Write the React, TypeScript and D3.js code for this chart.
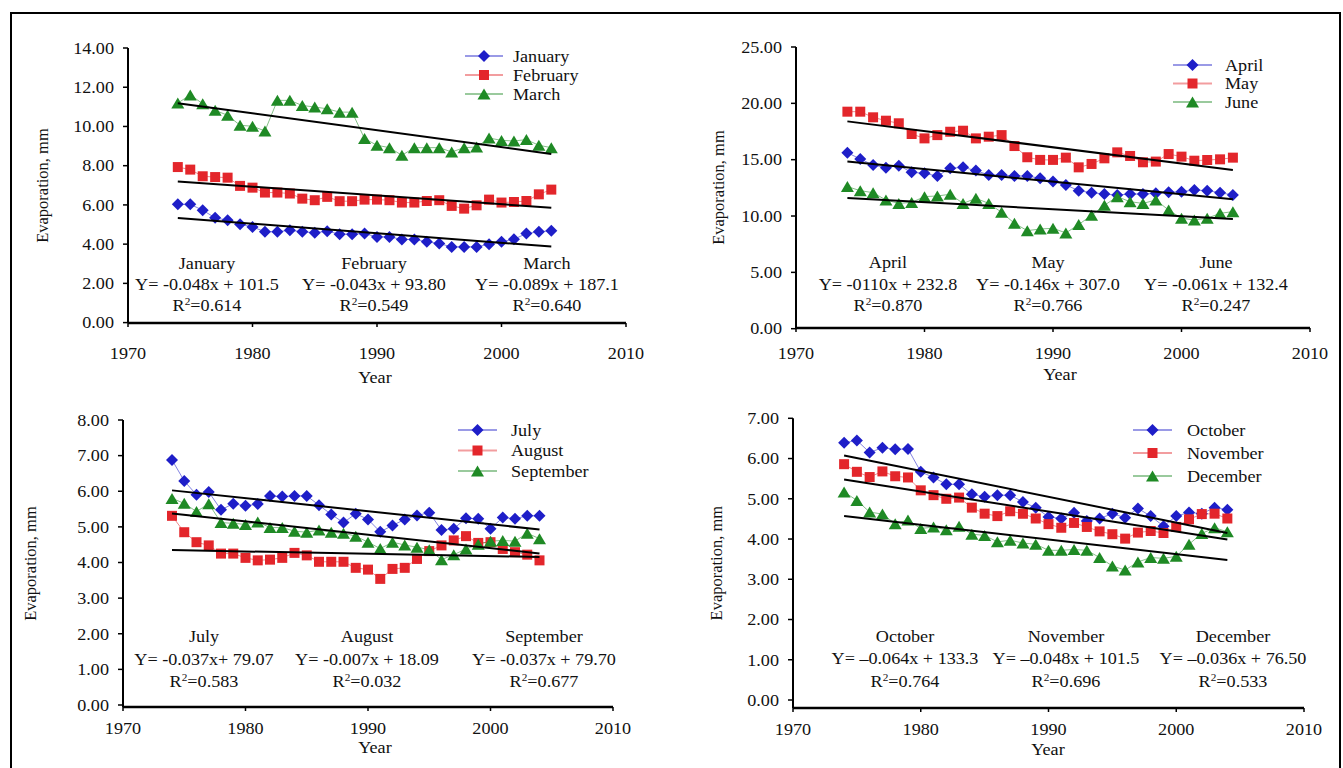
import React from "react";
import * as d3 from "d3";

const years = [1974, 1975, 1976, 1977, 1978, 1979, 1980, 1981, 1982, 1983, 1984, 1985, 1986, 1987, 1988, 1989, 1990, 1991, 1992, 1993, 1994, 1995, 1996, 1997, 1998, 1999, 2000, 2001, 2002, 2003, 2004];
const xTicks = [1970, 1980, 1990, 2000, 2010];

const january = [6.03, 6.03, 5.73, 5.34, 5.22, 5.01, 4.88, 4.63, 4.63, 4.71, 4.63, 4.58, 4.66, 4.51, 4.51, 4.54, 4.37, 4.37, 4.24, 4.24, 4.12, 4.03, 3.86, 3.86, 3.86, 4.0, 4.12, 4.25, 4.54, 4.63, 4.68];
const february = [7.93, 7.8, 7.46, 7.42, 7.39, 6.97, 6.88, 6.63, 6.63, 6.58, 6.32, 6.24, 6.41, 6.19, 6.19, 6.27, 6.27, 6.24, 6.12, 6.12, 6.2, 6.24, 5.95, 5.81, 5.98, 6.27, 6.12, 6.15, 6.2, 6.54, 6.78];
const march = [11.19, 11.61, 11.16, 10.82, 10.57, 10.06, 10.01, 9.77, 11.33, 11.33, 11.07, 10.99, 10.9, 10.73, 10.73, 9.38, 9.04, 8.92, 8.53, 8.92, 8.92, 8.92, 8.7, 8.92, 8.95, 9.41, 9.29, 9.26, 9.33, 9.04, 8.92];
const april = [15.62, 15.06, 14.53, 14.29, 14.47, 13.88, 13.79, 13.55, 14.23, 14.32, 14.03, 13.64, 13.64, 13.55, 13.55, 13.35, 13.06, 12.76, 12.25, 12.07, 11.95, 11.86, 11.95, 11.95, 12.01, 12.1, 12.16, 12.31, 12.25, 12.07, 11.86];
const may = [19.26, 19.26, 18.76, 18.46, 18.23, 17.28, 16.89, 17.18, 17.48, 17.57, 16.89, 17.04, 17.18, 16.21, 15.21, 14.98, 14.98, 15.18, 14.32, 14.62, 15.12, 15.65, 15.33, 14.77, 14.83, 15.5, 15.27, 14.91, 14.97, 15.03, 15.18];
const june = [12.61, 12.25, 12.07, 11.42, 11.12, 11.21, 11.72, 11.78, 11.93, 11.12, 11.57, 11.12, 10.33, 9.35, 8.7, 8.85, 8.91, 8.5, 9.24, 10.07, 10.95, 11.72, 11.27, 11.12, 11.42, 10.53, 9.8, 9.65, 9.8, 10.24, 10.39];
const july = [6.88, 6.29, 5.9, 5.98, 5.48, 5.65, 5.59, 5.64, 5.87, 5.85, 5.87, 5.87, 5.61, 5.35, 5.12, 5.37, 5.21, 4.86, 5.04, 5.21, 5.32, 5.4, 4.91, 4.95, 5.24, 5.23, 4.95, 5.26, 5.23, 5.31, 5.31];
const august = [5.31, 4.85, 4.57, 4.48, 4.25, 4.25, 4.13, 4.06, 4.08, 4.13, 4.27, 4.2, 4.02, 4.02, 4.02, 3.85, 3.8, 3.54, 3.82, 3.85, 4.1, 4.32, 4.48, 4.62, 4.74, 4.55, 4.57, 4.38, 4.29, 4.22, 4.06];
const september = [5.8, 5.66, 5.43, 5.65, 5.12, 5.1, 5.07, 5.14, 4.98, 4.98, 4.88, 4.85, 4.91, 4.85, 4.82, 4.74, 4.57, 4.39, 4.57, 4.49, 4.43, 4.36, 4.08, 4.22, 4.38, 4.51, 4.6, 4.62, 4.6, 4.82, 4.67];
const october = [6.39, 6.45, 6.15, 6.27, 6.23, 6.24, 5.67, 5.53, 5.36, 5.36, 5.11, 5.05, 5.09, 5.09, 4.92, 4.78, 4.55, 4.51, 4.65, 4.45, 4.51, 4.63, 4.53, 4.76, 4.57, 4.32, 4.57, 4.66, 4.63, 4.78, 4.73];
const november = [5.86, 5.67, 5.54, 5.68, 5.56, 5.53, 5.21, 5.09, 5.0, 5.03, 4.78, 4.63, 4.57, 4.69, 4.63, 4.51, 4.37, 4.28, 4.4, 4.3, 4.19, 4.12, 4.01, 4.16, 4.2, 4.15, 4.3, 4.49, 4.62, 4.63, 4.51];
const december = [5.17, 4.96, 4.67, 4.62, 4.38, 4.47, 4.26, 4.3, 4.23, 4.32, 4.12, 4.09, 3.93, 3.97, 3.9, 3.87, 3.72, 3.72, 3.74, 3.72, 3.54, 3.33, 3.23, 3.43, 3.54, 3.52, 3.57, 3.87, 4.14, 4.28, 4.18];

const equationsQ1 = ["Y= -0.048x + 101.5", "Y= -0.043x + 93.80", "Y= -0.089x + 187.1"];
const r2Q1 = ["0.614", "0.549", "0.640"];
const equationsQ2 = ["Y= -0110x + 232.8", "Y= -0.146x + 307.0", "Y= -0.061x + 132.4"];
const r2Q2 = ["0.870", "0.766", "0.247"];
const equationsQ3 = ["Y= -0.037x+ 79.07", "Y= -0.007x + 18.09", "Y= -0.037x + 79.70"];
const r2Q3 = ["0.583", "0.032", "0.677"];
const equationsQ4 = ["Y= \u20130.064x + 133.3", "Y= \u20130.048x + 101.5", "Y= \u20130.036x + 76.50"];
const r2Q4 = ["0.764", "0.696", "0.533"];

const BLUE = "#1e1ec8";
const RED = "#e3262b";
const GREEN = "#1f8a25";
const FONT = "'Liberation Serif', 'Times New Roman', serif";
const FS = 16.5;
const SX = 1.1;

type Marker = "diamond" | "square" | "triangle";
type Series = { name: string; values: number[]; color: string; marker: Marker };

type PanelCfg = {
  series: Series[];
  equations: string[];
  r2: string[];
  xRange: [number, number];
  yRange: [number, number];
  yMax: number;
  yStep: number;
  axisY: number;
  xLabelY: number;
  yearX: number;
  yearY: number;
  yTitleX: number;
  legend: { x1: number; x2: number; tx: number; y0: number; dy: number };
  notesX: number[];
  notesY: number[];
};

function markerPath(m: Marker, cx: number, cy: number, s = 1): string {
  if (m === "diamond") {
    const r = 6 * s;
    return `M${cx},${cy - r}L${cx + r},${cy}L${cx},${cy + r}L${cx - r},${cy}Z`;
  }
  if (m === "square") {
    const r = 5 * s;
    return `M${cx - r},${cy - r}h${2 * r}v${2 * r}h${-2 * r}Z`;
  }
  const w = 6.5 * s;
  const h = 5.5 * s;
  return `M${cx},${cy - h}L${cx + w},${cy + h}L${cx - w},${cy + h}Z`;
}

function fit(xs: number[], ys: number[]): [number, number] {
  const mx = d3.mean(xs) as number;
  const my = d3.mean(ys) as number;
  let sxy = 0;
  let sxx = 0;
  xs.forEach((xv, i) => {
    sxy += (xv - mx) * (ys[i] - my);
    sxx += (xv - mx) * (xv - mx);
  });
  const b = sxy / sxx;
  return [b, my - b * mx];
}

function HText({ x, y, anchor = "middle", children, size = FS }: { x: number; y: number; anchor?: string; children: React.ReactNode; size?: number }) {
  return (
    <text
      transform={`translate(${x},${y}) scale(${SX},1)`}
      textAnchor={anchor}
      dy="0.35em"
      fontFamily={FONT}
      fontSize={size}
      fill="#111"
    >
      {children}
    </text>
  );
}

function Panel({ cfg }: { cfg: PanelCfg }) {
  const x = d3.scaleLinear().domain([1970, 2010]).range(cfg.xRange);
  const y = d3.scaleLinear().domain([0, cfg.yMax]).range(cfg.yRange);
  const yTicks = d3.range(0, cfg.yMax + 0.001, cfg.yStep);
  const fmt = d3.format(".2f");
  const line = d3
    .line<number>()
    .x((_, i) => x(years[i]))
    .y((v) => y(v));
  const x0 = cfg.xRange[0];
  const x1 = cfg.xRange[1];
  const yTop = y(cfg.yMax);
  const first = years[0];
  const last = years[years.length - 1];

  return (
    <g>
      {/* series lines */}
      {cfg.series.map((s) => (
        <path key={s.name + "l"} d={line(s.values) || ""} fill="none" stroke={s.color} strokeOpacity={0.55} strokeWidth={1} />
      ))}
      {/* markers */}
      {cfg.series.map((s) => (
        <g key={s.name + "m"} fill={s.color}>
          {s.values.map((v, i) => (
            <path key={i} d={markerPath(s.marker, x(years[i]), y(v))} />
          ))}
        </g>
      ))}
      {/* trend lines */}
      {cfg.series.map((s) => {
        const [b, a] = fit(years, s.values);
        return (
          <line
            key={s.name + "t"}
            x1={x(first)}
            y1={y(a + b * first)}
            x2={x(last)}
            y2={y(a + b * last)}
            stroke="#000"
            strokeWidth={2}
          />
        );
      })}
      {/* y axis */}
      <line x1={x0} y1={yTop} x2={x0} y2={cfg.axisY} stroke="#000" strokeWidth={2} />
      {yTicks.map((t) => (
        <g key={"yt" + t}>
          <line x1={x0 - 5} y1={y(t)} x2={x0} y2={y(t)} stroke="#000" strokeWidth={1.5} />
          <HText x={x0 - 14} y={y(t)} anchor="end">
            {fmt(t)}
          </HText>
        </g>
      ))}
      {/* x axis */}
      <line x1={x0} y1={cfg.axisY} x2={x1} y2={cfg.axisY} stroke="#000" strokeWidth={2.5} />
      {xTicks.map((t) => (
        <g key={"xt" + t}>
          <line x1={x(t)} y1={cfg.axisY} x2={x(t)} y2={cfg.axisY + 4} stroke="#000" strokeWidth={1.5} />
          <HText x={x(t)} y={cfg.xLabelY}>
            {t}
          </HText>
        </g>
      ))}
      <HText x={cfg.yearX} y={cfg.yearY}>
        Year
      </HText>
      <text
        transform={`translate(${cfg.yTitleX},${(yTop + cfg.axisY) / 2}) rotate(-90)`}
        textAnchor="middle"
        dy="0.35em"
        fontFamily={FONT}
        fontSize={FS}
        fill="#111"
      >
        Evaporation, mm
      </text>
      {/* legend */}
      {cfg.series.map((s, i) => {
        const ly = cfg.legend.y0 + i * cfg.legend.dy;
        const mx = (cfg.legend.x1 + cfg.legend.x2) / 2;
        return (
          <g key={s.name + "lg"}>
            <line x1={cfg.legend.x1} y1={ly} x2={cfg.legend.x2} y2={ly} stroke={s.color} strokeOpacity={0.45} strokeWidth={2} />
            <path d={markerPath(s.marker, mx, ly)} fill={s.color} />
            <HText x={cfg.legend.tx} y={ly} anchor="start">
              {s.name}
            </HText>
          </g>
        );
      })}
      {/* regression notes */}
      {cfg.series.map((s, i) => (
        <g key={s.name + "n"}>
          <HText x={cfg.notesX[i]} y={cfg.notesY[0]}>
            {s.name}
          </HText>
          <HText x={cfg.notesX[i]} y={cfg.notesY[1]}>
            {cfg.equations[i]}
          </HText>
          <HText x={cfg.notesX[i]} y={cfg.notesY[2]}>
            R
            <tspan fontSize={FS * 0.62} dy="-0.55em">
              2
            </tspan>
            <tspan dy="0.34em">={cfg.r2[i]}</tspan>
          </HText>
        </g>
      ))}
    </g>
  );
}

const panels: PanelCfg[] = [
  {
    series: [
      { name: "January", values: january, color: BLUE, marker: "diamond" },
      { name: "February", values: february, color: RED, marker: "square" },
      { name: "March", values: march, color: GREEN, marker: "triangle" },
    ],
    equations: equationsQ1,
    r2: r2Q1,
    xRange: [128, 626],
    yRange: [322.6, 48],
    yMax: 14,
    yStep: 2,
    axisY: 323,
    xLabelY: 353,
    yearX: 375,
    yearY: 377,
    yTitleX: 42,
    legend: { x1: 465, x2: 503, tx: 513, y0: 56, dy: 19 },
    notesX: [207, 374, 547],
    notesY: [263, 284, 305],
  },
  {
    series: [
      { name: "April", values: april, color: BLUE, marker: "diamond" },
      { name: "May", values: may, color: RED, marker: "square" },
      { name: "June", values: june, color: GREEN, marker: "triangle" },
    ],
    equations: equationsQ2,
    r2: r2Q2,
    xRange: [796, 1310],
    yRange: [328.7, 47],
    yMax: 25,
    yStep: 5,
    axisY: 328,
    xLabelY: 353,
    yearX: 1060,
    yearY: 374,
    yTitleX: 718,
    legend: { x1: 1173, x2: 1212, tx: 1225, y0: 65, dy: 18.5 },
    notesX: [888, 1048, 1216],
    notesY: [262, 284, 305],
  },
  {
    series: [
      { name: "July", values: july, color: BLUE, marker: "diamond" },
      { name: "August", values: august, color: RED, marker: "square" },
      { name: "September", values: september, color: GREEN, marker: "triangle" },
    ],
    equations: equationsQ3,
    r2: r2Q3,
    xRange: [123, 613],
    yRange: [705, 420],
    yMax: 8,
    yStep: 1,
    axisY: 707,
    xLabelY: 728,
    yearX: 375,
    yearY: 747,
    yTitleX: 30,
    legend: { x1: 458, x2: 497, tx: 511, y0: 430, dy: 20.5 },
    notesX: [204, 367, 544],
    notesY: [636, 659, 681],
  },
  {
    series: [
      { name: "October", values: october, color: BLUE, marker: "diamond" },
      { name: "November", values: november, color: RED, marker: "square" },
      { name: "December", values: december, color: GREEN, marker: "triangle" },
    ],
    equations: equationsQ4,
    r2: r2Q4,
    xRange: [793, 1304],
    yRange: [700, 418.3],
    yMax: 7,
    yStep: 1,
    axisY: 708,
    xLabelY: 729,
    yearX: 1048,
    yearY: 749,
    yTitleX: 716,
    legend: { x1: 1133, x2: 1172, tx: 1187, y0: 430, dy: 23 },
    notesX: [905, 1066, 1233],
    notesY: [636, 658, 681],
  },
];

export default function App() {
  return (
    <svg
      width={1343}
      height={768}
      style={{ position: "absolute", left: 0, top: 0, background: "#fff" }}
    >
      <rect x={0} y={0} width={1343} height={768} fill="#fff" />
      <rect x={11} y={13} width={1329} height={800} fill="none" stroke="#000" strokeWidth={2} />
      {panels.map((p, i) => (
        <Panel key={i} cfg={p} />
      ))}
    </svg>
  );
}
